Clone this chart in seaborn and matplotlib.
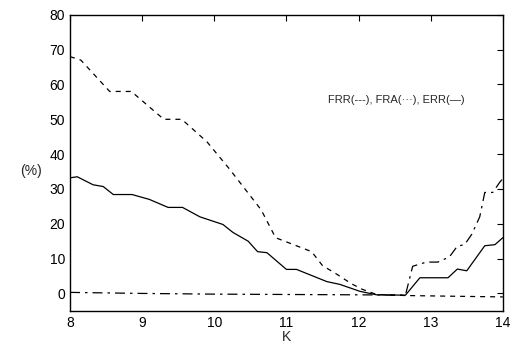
import matplotlib
matplotlib.use("Agg")
import matplotlib.pyplot as plt
import seaborn as sns
import pandas as pd

# FRR (dashed)
frr_k = [8.0, 8.15, 8.55, 8.85, 9.3, 9.55, 9.9, 10.2, 10.5, 10.65, 10.85, 11.1, 11.35, 11.5, 11.7, 11.9, 12.05, 12.25, 12.65, 13.3, 14.0]
frr_v = [68, 67, 58, 58, 50, 50, 43.5, 36, 28, 24, 16, 14, 12, 8, 5.5, 2.8, 1.2, -0.3, -0.6, -0.8, -1.0]

# FRA (dash-dot)
fra_k = [8.0, 9.0, 10.0, 11.0, 12.0, 12.65, 12.75, 12.94, 13.1, 13.26, 13.37, 13.47, 13.57, 13.68, 13.75, 13.86, 13.96, 14.0]
fra_v = [0.3, 0.0, -0.2, -0.3, -0.4, -0.5, 7.8, 9, 9, 10.5, 13.6, 14, 17, 22, 29, 29, 32, 33]

# ERR (solid)
err_k = [8.0, 8.1, 8.32, 8.46, 8.6, 8.86, 9.1, 9.36, 9.56, 9.8, 10.12, 10.26, 10.47, 10.6, 10.73, 11.0, 11.14, 11.32, 11.56, 11.74, 12.02, 12.25, 12.65, 12.85, 13.24, 13.37, 13.5, 13.75, 13.89, 14.0]
err_v = [33.2, 33.5, 31.2, 30.7, 28.4, 28.4, 27, 24.7, 24.7, 22, 19.8, 17.5, 15, 12, 11.7, 6.9, 6.9, 5.4, 3.4, 2.6, 0.6, -0.4, -0.5, 4.5, 4.5, 7, 6.5, 13.7, 14, 16]

x_ticks = [8, 9, 10, 11, 12, 13, 14]
y_ticks = [0, 10, 20, 30, 40, 50, 60, 70, 80]

sns.set_style("white")
plt.rcParams['font.family'] = ['Liberation Sans', 'DejaVu Sans']

fig = plt.figure(figsize=(5.11, 3.45), dpi=100)
ax = fig.add_axes([0.137, 0.099, 0.847, 0.858])

sns.lineplot(x=frr_k, y=frr_v, ax=ax, color='black', linewidth=0.9, linestyle=(0, (4, 4)), sort=False)
sns.lineplot(x=fra_k, y=fra_v, ax=ax, color='black', linewidth=0.9, linestyle=(0, (8, 4, 2, 4)), sort=False)
sns.lineplot(x=err_k, y=err_v, ax=ax, color='black', linewidth=0.9, linestyle='-', sort=False)

ax.set_xlim(8, 14)
ax.set_ylim(-5, 80)
ax.set_xticks(x_ticks)
ax.set_yticks(y_ticks)
ax.tick_params(direction='in', top=True, right=True, length=4, width=0.8, labelsize=10, colors='black')
for s in ax.spines.values():
    s.set_color('black')
    s.set_linewidth(1.0)

ax.set_xlabel('K', fontsize=10, labelpad=0)
ax.set_ylabel('(%)', fontsize=10, rotation=0, labelpad=14)
ax.yaxis.set_label_coords(-0.09, 0.45)

ax.text(11.57, 55.6, 'FRR(---), FRA(···), ERR(—)', fontsize=8, va='center', ha='left')

fig.savefig('out.png', dpi=100)
